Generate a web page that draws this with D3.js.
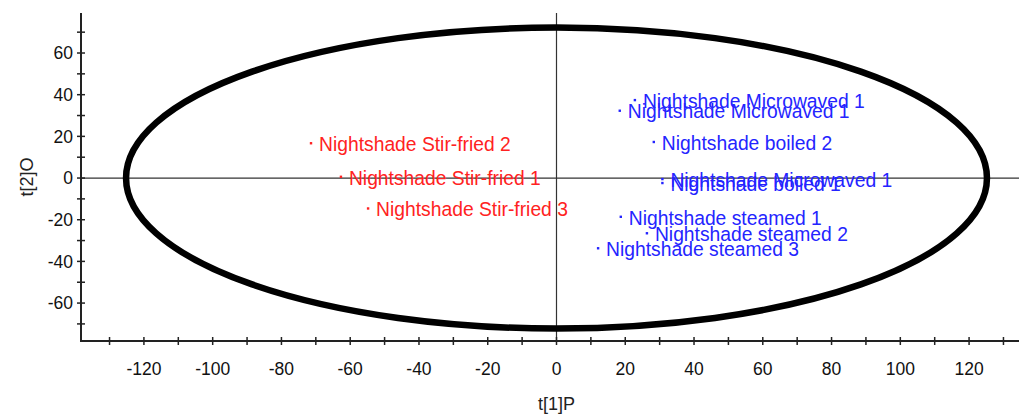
<!DOCTYPE html>
<html>
<head>
<meta charset="utf-8">
<script src="https://cdn.jsdelivr.net/npm/d3@7"></script>
<style>
  html, body { margin: 0; padding: 0; background: #fff; }
  svg { display: block; font-family: Arial, "Liberation Sans", sans-serif; }
</style>
</head>
<body>
<svg id="chart" width="1019" height="414"></svg>
<script>
// Score plot: predictive component t[1]P vs orthogonal component t[2]O
const sampleNames = [
  "Nightshade Stir-fried 2", "Nightshade Stir-fried 1", "Nightshade Stir-fried 3",
  "Nightshade Microwaved 1", "Nightshade Microwaved 1", "Nightshade boiled 2",
  "Nightshade Microwaved 1", "Nightshade boiled 1",
  "Nightshade steamed 1", "Nightshade steamed 2", "Nightshade steamed 3"
];
const t1P = [-71.4, -62.7, -54.8, 22.8, 18.4, 28.3, 30.8, 30.8, 18.7, 26.3, 12.1];
const t2O = [16.7, 0.6, -14.6, 37.4, 32.3, 17.3, -0.5, -2.4, -18.6, -26.5, -33.7];
const groups = ["stir", "stir", "stir", "other", "other", "other", "other", "other", "other", "other", "other"];

// Hotelling's T2 ellipse radii
const ellipseRx = [125.2];
const ellipseRy = [72.2];

const xTicks = d3.range(-130, 131, 10);
const xLabels = [-120, -100, -80, -60, -40, -20, 0, 20, 40, 60, 80, 100, 120];
const yTicks = d3.range(-70, 71, 10);
const yLabels = [-60, -40, -20, 0, 20, 40, 60];

const groupColor = { stir: "#ff2222", other: "#2424ff" };

const svg = d3.select("#chart");
const x = d3.scaleLinear().domain([-138.3, 138.3]).range([81, 1032]);
const y = d3.scaleLinear().domain([-78.2, 79.2]).range([341, 13]);

// zero reference lines
svg.append("line")
  .attr("x1", x(0)).attr("x2", x(0))
  .attr("y1", y.range()[1]).attr("y2", y.range()[0])
  .attr("stroke", "#333").attr("stroke-width", 1.2);
svg.append("line")
  .attr("x1", x.range()[0]).attr("x2", x.range()[1])
  .attr("y1", y(0)).attr("y2", y(0))
  .attr("stroke", "#333").attr("stroke-width", 1.2);

// confidence ellipse
svg.append("ellipse")
  .attr("cx", x(0)).attr("cy", y(0))
  .attr("rx", x(ellipseRx[0]) - x(0))
  .attr("ry", y(0) - y(ellipseRy[0]))
  .attr("fill", "none").attr("stroke", "#000").attr("stroke-width", 6.5);

// axes
const xAxis = svg.append("g").attr("transform", `translate(0,${y.range()[0]})`);
xAxis.append("line").attr("x1", x.range()[0]).attr("x2", x.range()[1])
  .attr("stroke", "#222").attr("stroke-width", 2);
xAxis.selectAll("line.tick").data(xTicks).join("line").attr("class", "tick")
  .attr("x1", d => x(d)).attr("x2", d => x(d)).attr("y1", -4).attr("y2", 4)
  .attr("stroke", "#222").attr("stroke-width", 1.5);
xAxis.selectAll("text").data(xLabels).join("text")
  .attr("x", d => x(d)).attr("y", 34)
  .attr("text-anchor", "middle").attr("font-size", 17.5).attr("fill", "#111")
  .text(d => d);

const yAxis = svg.append("g").attr("transform", `translate(${x.range()[0]},0)`);
yAxis.append("line").attr("y1", y.range()[0] + 1).attr("y2", y.range()[1])
  .attr("stroke", "#222").attr("stroke-width", 2);
yAxis.selectAll("line.tick").data(yTicks).join("line").attr("class", "tick")
  .attr("y1", d => y(d)).attr("y2", d => y(d)).attr("x1", -4).attr("x2", 4)
  .attr("stroke", "#222").attr("stroke-width", 1.5);
yAxis.selectAll("text").data(yLabels).join("text")
  .attr("x", -8).attr("y", d => y(d)).attr("dy", "0.36em")
  .attr("text-anchor", "end").attr("font-size", 17.5).attr("fill", "#111")
  .text(d => d);

// axis titles
svg.append("text").attr("x", x(0)).attr("y", 410)
  .attr("text-anchor", "middle").attr("font-size", 18).attr("fill", "#222")
  .text("t[1]P");
svg.append("text")
  .attr("transform", `translate(33,${(y.range()[0] + y.range()[1]) / 2}) rotate(-90)`)
  .attr("text-anchor", "middle").attr("font-size", 18).attr("fill", "#222")
  .text("t[2]O");

// sample points and labels
const pts = sampleNames.map((n, i) => ({ name: n, x: t1P[i], y: t2O[i], g: groups[i] }));
const pg = svg.append("g");
pg.selectAll("rect").data(pts).join("rect")
  .attr("x", d => x(d.x) - 1.2).attr("y", d => y(d.y) - 1.2)
  .attr("width", 2.4).attr("height", 2.4)
  .attr("fill", d => groupColor[d.g]);
pg.selectAll("text").data(pts).join("text")
  .attr("x", d => x(d.x) + 8).attr("y", d => y(d.y)).attr("dy", "0.4em")
  .attr("font-size", 19.3).attr("fill", d => groupColor[d.g])
  .text(d => d.name);
</script>
</body>
</html>
